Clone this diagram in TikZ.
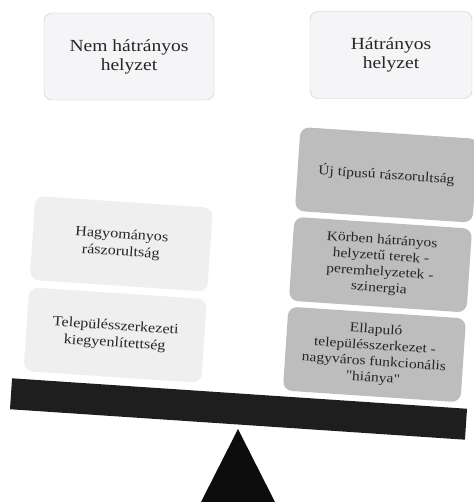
\documentclass[tikz,border=0pt]{standalone}
\usepackage{fontspec}
\setmainfont{Liberation Serif}[FakeStretch=1.15, Ligatures=TeXOff]
\definecolor{headfill}{HTML}{F5F5F7}
\definecolor{headline}{HTML}{C9C9CD}
\definecolor{lightfill}{HTML}{EFEFEF}
\definecolor{darkfill}{HTML}{BDBDBD}
\definecolor{beamcol}{HTML}{1E1E1E}
\tikzset{
  head box/.style={rectangle, rounded corners=8pt, draw=headline, fill=headfill, align=center,
    minimum height=87pt, text=black!85, font=\fontsize{17}{19}\selectfont},
  light box/.style={rectangle, rounded corners=9pt, fill=lightfill, align=center,
    minimum width=178pt, minimum height=84pt, text=black!85, font=\fontsize{14}{17}\selectfont},
  dark box/.style={rectangle, rounded corners=9pt, fill=darkfill, align=center,
    minimum width=178pt, minimum height=84pt, text=black!85, font=\fontsize{13.5}{16}\selectfont},
  beam/.style={fill=beamcol},
  support/.style={fill=black!95},
}

\begin{document}
\begin{tikzpicture}[x=1pt, y=1pt]
  \useasboundingbox (0,0) rectangle (473,502);

  % Headings
  \node[head box, minimum width=170pt] (nemhat) at (129,445.5) {Nem hátrányos\\helyzet};
  \node[head box, minimum width=162pt] (hat) at (391,447) {Hátrányos\\helyzet};

  % Support under the beam
  \fill[support] (238,73) -- (276,-2) -- (200,-2) -- cycle;

  % Tilted beam with its load
  \begin{scope}[shift={(238.5,93)}, rotate=-3.83, transform shape]
    \fill[beam] (-228,-15.5) rectangle (228,15.5);

    % left side
    \node[light box] (telep) at (-128,65.5) {Településszerkezeti\\kiegyenlítettség};
    \node[light box] (hagy) at (-128,157) {Hagyományos\\rászorultság};

    % right side
    \node[dark box] (ellap) at (132,63.5) {Ellapuló\\településszerkezet -\\nagyváros funkcionális\\"hiánya"};
    \node[dark box] (korben) at (132,153.5) {Körben hátrányos\\helyzetű terek -\\peremhelyzetek -\\szinergia};
    \node[dark box] (uj) at (132,243.5) {Új típusú rászorultság};
  \end{scope}

\end{tikzpicture}
\end{document}
